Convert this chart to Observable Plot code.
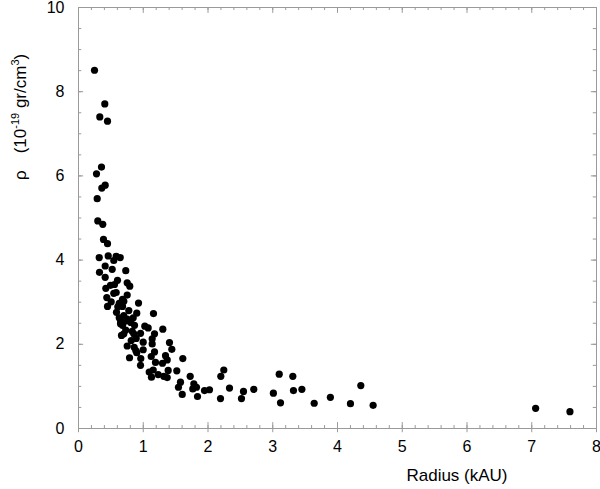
<!DOCTYPE html>
<html>
<head>
<meta charset="utf-8">
<script src="https://cdn.jsdelivr.net/npm/d3@7"></script>
<script src="https://cdn.jsdelivr.net/npm/@observablehq/plot@0.6"></script>
<style>
  html, body { margin: 0; padding: 0; background: #fff; }
  #chart { width: 600px; height: 489px; }
</style>
</head>
<body>
<div id="chart"></div>
<script>
// Radius (kAU)
const radius = [
  0.247, 0.406, 0.329, 0.448, 0.355, 0.278, 0.412, 0.360, 0.289, 0.298, 0.375, 0.386, 0.448,
  0.320, 0.459, 0.582, 0.644, 0.545, 0.412, 0.520, 0.324, 0.730, 0.412, 0.602, 0.752, 0.792,
  0.494, 0.556, 0.422, 0.582, 0.545, 0.752, 0.437, 0.680, 0.700, 0.505, 0.629, 0.927, 0.448,
  0.607, 0.680, 0.777, 0.587, 0.900, 1.158, 0.700, 0.629, 0.752, 0.845, 0.653, 0.808, 0.680,
  0.865, 1.024, 1.076, 1.302, 0.730, 0.829, 0.958, 1.174, 0.664, 0.891, 1.138, 0.814, 0.999,
  1.405, 0.752, 0.860, 0.885, 0.999, 1.441, 1.174, 0.900, 1.344, 1.123, 0.788, 0.962, 1.611,
  1.189, 1.297, 1.370, 0.958, 1.518, 1.092, 1.154, 1.231, 1.385, 1.127, 1.317, 1.370, 1.725,
  1.575, 1.544, 1.781, 1.822, 1.765, 1.602, 1.838, 1.946, 2.023, 2.198, 2.244, 2.332, 2.193,
  2.517, 2.548, 2.707, 3.01, 3.10, 3.12, 3.31, 3.32, 3.45, 3.64, 3.89, 4.20, 4.36, 4.55,
  7.06, 7.59, 0.726, 0.649, 0.854, 0.700, 1.138
];
// Density rho (10^-19 gr/cm^3)
const density = [
  8.51, 7.71, 7.40, 7.30, 6.21, 6.05, 5.78, 5.71, 5.46, 4.93, 4.85, 4.49, 4.39,
  4.06, 4.10, 4.09, 4.06, 3.99, 3.86, 3.78, 3.71, 3.75, 3.59, 3.52, 3.46, 3.38,
  3.40, 3.42, 3.33, 3.23, 3.21, 3.17, 3.11, 3.07, 3.02, 3.01, 2.97, 2.98, 2.90,
  2.89, 2.90, 2.80, 2.76, 2.74, 2.73, 2.68, 2.63, 2.60, 2.63, 2.54, 2.52, 2.45,
  2.45, 2.43, 2.39, 2.36, 2.34, 2.31, 2.26, 2.25, 2.21, 2.14, 2.13, 2.09, 2.05,
  2.04, 1.96, 1.93, 1.85, 1.87, 1.88, 1.82, 1.80, 1.73, 1.71, 1.68, 1.66, 1.66,
  1.57, 1.55, 1.63, 1.50, 1.37, 1.34, 1.39, 1.28, 1.38, 1.22, 1.24, 1.21, 1.24,
  1.10, 0.98, 1.06, 0.98, 0.94, 0.81, 0.76, 0.90, 0.92, 1.24, 1.39, 0.96, 0.71,
  0.71, 0.88, 0.93, 0.84, 1.29, 0.61, 1.24, 0.90, 0.93, 0.60, 0.74, 0.59, 1.02, 0.55,
  0.48, 0.40, 2.55, 2.49, 2.25, 2.25, 2.01
];
const xTicks = [0, 1, 2, 3, 4, 5, 6, 7, 8];
const yTicks = [0, 2, 4, 6, 8, 10];
const xMinor = d3.range(0, 8.001, 0.2).map(v => +v.toFixed(1));
const yMinor = d3.range(0, 10.001, 0.5);
const xTitle = "Radius (kAU)";

const points = radius.map((r, i) => ({r, rho: density[i]}));
const gray = "#9a9a9a";

const chart = Plot.plot({
  width: 600,
  height: 489,
  marginLeft: 78,
  marginRight: 4,
  marginTop: 7,
  marginBottom: 61,
  style: {fontFamily: "'Liberation Sans', Arial, Helvetica, sans-serif", fontSize: "16px", background: "#fff"},
  x: {domain: [0, 8]},
  y: {domain: [0, 10]},
  marks: [
    Plot.frame({stroke: gray}),
    // bottom ticks
    Plot.ruleX(xMinor, {x: d => d, y1: 0, y2: 0.07, stroke: gray}),
    Plot.ruleX(xTicks, {x: d => d, y1: -0.1, y2: 0.14, stroke: gray}),
    // top ticks
    Plot.ruleX(xMinor, {x: d => d, y1: 10, y2: 9.93, stroke: gray}),
    Plot.ruleX(xTicks, {x: d => d, y1: 10, y2: 9.86, stroke: gray}),
    // left ticks
    Plot.ruleY(yMinor, {y: d => d, x1: 0, x2: 0.05, stroke: gray}),
    Plot.ruleY(yTicks, {y: d => d, x1: 0, x2: 0.08, stroke: gray}),
    // right ticks
    Plot.ruleY(yMinor, {y: d => d, x1: 8, x2: 7.95, stroke: gray}),
    Plot.ruleY(yTicks, {y: d => d, x1: 8, x2: 7.92, stroke: gray}),
    Plot.axisX(xTicks, {tickSize: 0, tickPadding: 12, label: null, fontSize: 16, fill: "#000"}),
    Plot.axisY(yTicks, {tickSize: 0, tickPadding: 14, label: null, fontSize: 16, fill: "#000"}),
    Plot.dot(points, {x: "r", y: "rho", r: 3.6, fill: "#000", stroke: "none"})
  ]
});

// Axis titles
const ns = "http://www.w3.org/2000/svg";
const xt = document.createElementNS(ns, "text");
xt.setAttribute("x", 457);
xt.setAttribute("y", 481);
xt.setAttribute("text-anchor", "middle");
xt.setAttribute("font-size", "17");
xt.setAttribute("fill", "#000");
xt.textContent = xTitle;
chart.appendChild(xt);

const yt = document.createElementNS(ns, "text");
yt.setAttribute("transform", "translate(26,180) rotate(-90)");
yt.setAttribute("text-anchor", "start");
yt.setAttribute("font-size", "17");
yt.setAttribute("fill", "#000");
const parts = [
  {t: "ρ", sup: false},
  {t: "(10", sup: false, dx: 17},
  {t: "-19", sup: true},
  {t: " gr/cm", sup: false, base: true},
  {t: "3", sup: true},
  {t: ")", sup: false, base: true}
];
for (const p of parts) {
  const ts = document.createElementNS(ns, "tspan");
  ts.textContent = p.t;
  if (p.dx) ts.setAttribute("dx", p.dx);
  if (p.sup) { ts.setAttribute("dy", -7); ts.setAttribute("font-size", "11"); }
  if (p.base) ts.setAttribute("dy", 7);
  ts.setAttribute("xml:space", "preserve");
  yt.appendChild(ts);
}
yt.setAttribute("style", "white-space: pre");
chart.appendChild(yt);

document.getElementById("chart").appendChild(chart);
</script>
</body>
</html>
